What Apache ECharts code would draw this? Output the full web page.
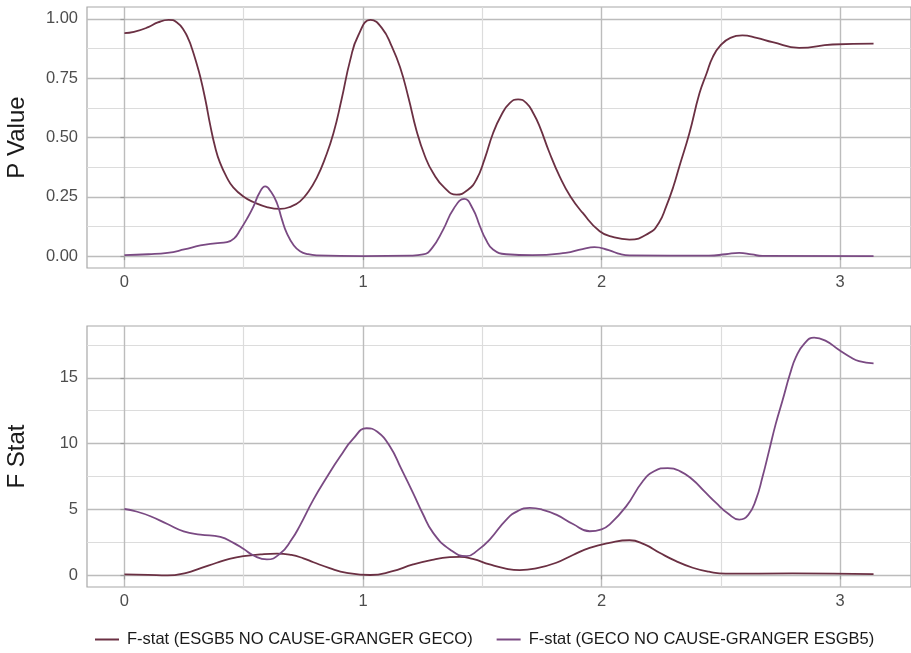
<!DOCTYPE html>
<html>
<head>
<meta charset="utf-8">
<script src="https://cdn.jsdelivr.net/npm/echarts@6/dist/echarts.min.js"></script>
<style>
html,body{margin:0;padding:0;background:#fff;}
#chart{width:911px;height:653px;}
</style>
</head>
<body>
<div id="chart"></div>
<script>
// ---- Data ----
const seriesNames = ['F-stat (ESGB5 NO CAUSE-GRANGER GECO)', 'F-stat (GECO NO CAUSE-GRANGER ESGB5)'];

// Top panel: P Value, series 1 (ESGB5 -> GECO)
const pX1 = [0, 0.04, 0.1, 0.14, 0.185, 0.22, 0.25, 0.27, 0.283, 0.30, 0.318, 0.339, 0.36, 0.38, 0.40, 0.43, 0.456, 0.50, 0.54, 0.60, 0.653, 0.70, 0.736, 0.77, 0.806, 0.84, 0.876, 0.91, 0.946, 0.98, 1.032, 1.08, 1.12, 1.155, 1.19, 1.224, 1.26, 1.294, 1.34, 1.392, 1.44, 1.475, 1.51, 1.545, 1.58, 1.615, 1.65, 1.685, 1.715, 1.741, 1.78, 1.824, 1.87, 1.921, 1.992, 2.05, 2.117, 2.2, 2.24, 2.271, 2.30, 2.326, 2.368, 2.41, 2.44, 2.466, 2.50, 2.54, 2.59, 2.65, 2.717, 2.828, 2.968, 3.14];
const pY1 = [0.94, 0.945, 0.965, 0.985, 0.996, 0.985, 0.95, 0.91, 0.875, 0.82, 0.755, 0.66, 0.55, 0.46, 0.395, 0.33, 0.29, 0.25, 0.228, 0.206, 0.199, 0.21, 0.231, 0.27, 0.33, 0.41, 0.518, 0.66, 0.825, 0.93, 0.996, 0.96, 0.885, 0.797, 0.67, 0.53, 0.42, 0.35, 0.29, 0.259, 0.28, 0.322, 0.41, 0.518, 0.595, 0.645, 0.661, 0.645, 0.6, 0.545, 0.44, 0.336, 0.25, 0.182, 0.105, 0.08, 0.07, 0.098, 0.14, 0.21, 0.29, 0.378, 0.518, 0.685, 0.77, 0.839, 0.89, 0.92, 0.93, 0.92, 0.902, 0.878, 0.892, 0.896];

// Top panel: P Value, series 2 (GECO -> ESGB5)
const pX2 = [0, 0.1, 0.18, 0.25, 0.318, 0.38, 0.43, 0.46, 0.485, 0.515, 0.541, 0.565, 0.59, 0.615, 0.639, 0.66, 0.68, 0.71, 0.736, 0.77, 0.806, 1.0, 1.2, 1.252, 1.29, 1.336, 1.38, 1.424, 1.46, 1.49, 1.515, 1.545, 1.6, 1.71, 1.849, 1.92, 1.97, 2.03, 2.08, 2.117, 2.45, 2.52, 2.577, 2.63, 2.674, 3.14];
const pY2 = [0.004, 0.008, 0.014, 0.028, 0.045, 0.054, 0.059, 0.075, 0.11, 0.16, 0.21, 0.265, 0.294, 0.27, 0.224, 0.155, 0.098, 0.045, 0.021, 0.008, 0.003, 0.0, 0.002, 0.007, 0.035, 0.112, 0.2, 0.241, 0.2, 0.126, 0.07, 0.028, 0.008, 0.004, 0.014, 0.03, 0.038, 0.025, 0.008, 0.003, 0.002, 0.008, 0.014, 0.007, 0.001, 0.0];

// Bottom panel: F Stat, series 1
const fX1 = [0, 0.1, 0.18, 0.26, 0.32, 0.387, 0.44, 0.499, 0.57, 0.639, 0.70, 0.75, 0.792, 0.86, 0.932, 1.03, 1.12, 1.21, 1.29, 1.364, 1.406, 1.46, 1.531, 1.59, 1.657, 1.73, 1.81, 1.88, 1.95, 2.033, 2.117, 2.18, 2.243, 2.31, 2.382, 2.45, 2.52, 2.8, 3.14];
const fY1 = [0.08, 0.04, 0.0, 0.2, 0.55, 0.96, 1.25, 1.46, 1.6, 1.66, 1.55, 1.3, 1.0, 0.55, 0.2, 0.03, 0.3, 0.83, 1.18, 1.38, 1.41, 1.25, 0.83, 0.55, 0.4, 0.55, 0.96, 1.55, 2.09, 2.47, 2.67, 2.35, 1.72, 1.1, 0.58, 0.28, 0.13, 0.15, 0.1];

// Bottom panel: F Stat, series 2
const fX2 = [0, 0.05, 0.109, 0.18, 0.248, 0.318, 0.402, 0.457, 0.50, 0.541, 0.597, 0.653, 0.70, 0.736, 0.792, 0.85, 0.904, 0.96, 1.015, 1.06, 1.113, 1.16, 1.21, 1.25, 1.294, 1.364, 1.434, 1.48, 1.531, 1.601, 1.65, 1.699, 1.75, 1.81, 1.88, 1.95, 2.0, 2.033, 2.103, 2.172, 2.22, 2.277, 2.33, 2.382, 2.43, 2.48, 2.53, 2.577, 2.615, 2.647, 2.675, 2.703, 2.73, 2.759, 2.79, 2.815, 2.85, 2.891, 2.94, 2.996, 3.04, 3.079, 3.14];
const fY2 = [5.04, 4.85, 4.49, 3.9, 3.35, 3.1, 2.92, 2.47, 2.0, 1.51, 1.21, 1.66, 2.7, 3.8, 5.75, 7.5, 9.02, 10.4, 11.17, 10.9, 9.78, 8.1, 6.25, 4.7, 3.23, 1.97, 1.46, 1.9, 2.72, 4.24, 4.9, 5.12, 5.0, 4.61, 3.9, 3.35, 3.5, 3.86, 5.24, 7.13, 7.9, 8.15, 7.9, 7.26, 6.4, 5.5, 4.7, 4.24, 4.6, 5.75, 7.5, 9.53, 11.5, 13.31, 15.3, 16.59, 17.6, 18.05, 17.8, 17.1, 16.6, 16.26, 16.09];

// Tick labels
const xMajor = [0, 1, 2, 3];
const xMinor = [0.5, 1.5, 2.5];
const pMajor = [0, 0.25, 0.5, 0.75, 1.0];
const pMinor = [0.125, 0.375, 0.625, 0.875];
const fMajor = [0, 5, 10, 15];
const fMinor = [2.5, 7.5, 12.5, 17.5];

// ---- Chart ----
const zip = (xs, ys) => xs.map((x, i) => [x, ys[i]]);
const colors = ['#6b3043', '#7a4a83'];
const MAJ = '#bcbcbc', MIN = '#dcdcdc', TXT = '#4d4d4d';
const FONT = 'Liberation Sans, Arial, sans-serif';

const X_MIN = -0.157, X_MAX = 3.297;

function xAxisPair(gridIndex) {
  return [
    {
      type: 'value', gridIndex, min: X_MIN, max: X_MAX,
      axisLine: { show: false },
      axisTick: { show: true, length: 4, customValues: xMajor, lineStyle: { color: '#9a9a9a', width: 1.2 } },
      axisLabel: { customValues: xMajor, color: TXT, fontSize: 16.5, fontFamily: FONT, margin: 6, formatter: v => String(v) },
      splitLine: { show: true, lineStyle: { color: MAJ, width: 1.4 } }
    },
    {
      type: 'value', gridIndex, min: X_MIN, max: X_MAX,
      axisLine: { show: false },
      axisTick: { show: false, customValues: xMinor },
      axisLabel: { show: false, customValues: xMinor },
      splitLine: { show: true, lineStyle: { color: MIN, width: 1.2 } }
    }
  ];
}

function yAxisPair(gridIndex, min, max, major, minor, name, fmt) {
  return [
    {
      type: 'value', gridIndex, min, max,
      name, nameLocation: 'middle', nameGap: 58, nameRotate: 90,
      nameTextStyle: { fontSize: 24, color: '#1a1a1a', fontFamily: FONT },
      axisLine: { show: false },
      axisTick: { show: true, length: 4, customValues: major, lineStyle: { color: '#9a9a9a', width: 1.2 } },
      axisLabel: { customValues: major, color: TXT, fontSize: 16.5, fontFamily: FONT, margin: 9, formatter: fmt },
      splitLine: { show: true, lineStyle: { color: MAJ, width: 1.4 } }
    },
    {
      type: 'value', gridIndex, min, max,
      axisLine: { show: false },
      axisTick: { show: false, customValues: minor },
      axisLabel: { show: false, customValues: minor },
      splitLine: { show: true, lineStyle: { color: MIN, width: 1.2 } }
    }
  ];
}

const chart = echarts.init(document.getElementById('chart'), null, { renderer: 'canvas' });

const lineSeries = (name, data, xi, yi, color) => ({
  name, type: 'line', data, xAxisIndex: xi, yAxisIndex: yi,
  smooth: 0.5, showSymbol: false, symbol: 'none',
  lineStyle: { color, width: 1.8 }, itemStyle: { color },
  animation: false, z: 5
});

const gridBase = { left: 87, right: 0, height: 261, show: true, borderColor: '#a8a8a8', borderWidth: 1.2, backgroundColor: 'transparent', containLabel: false, outerBoundsMode: 'none' };

chart.setOption({
  animation: false,
  backgroundColor: '#ffffff',
  grid: [
    Object.assign({}, gridBase, { top: 7 }),
    Object.assign({}, gridBase, { top: 326 })
  ],
  xAxis: [...xAxisPair(0), ...xAxisPair(1)],
  yAxis: [
    ...yAxisPair(0, -0.05, 1.05, pMajor, pMinor, 'P Value', v => v.toFixed(2)),
    ...yAxisPair(1, -0.88, 18.93, fMajor, fMinor, 'F Stat', v => String(v))
  ],
  legend: {
    data: seriesNames,
    left: 90, top: 626,
    icon: 'rect', itemWidth: 24, itemHeight: 2, itemGap: 24,
    textStyle: { fontSize: 16.5, color: '#1a1a1a', fontFamily: FONT, padding: [0, 0, 0, 3] }
  },
  series: [
    lineSeries(seriesNames[0], zip(pX1, pY1), 0, 0, colors[0]),
    lineSeries(seriesNames[1], zip(pX2, pY2), 0, 0, colors[1]),
    lineSeries(seriesNames[0], zip(fX1, fY1), 2, 2, colors[0]),
    lineSeries(seriesNames[1], zip(fX2, fY2), 2, 2, colors[1])
  ]
});
</script>
</body>
</html>
